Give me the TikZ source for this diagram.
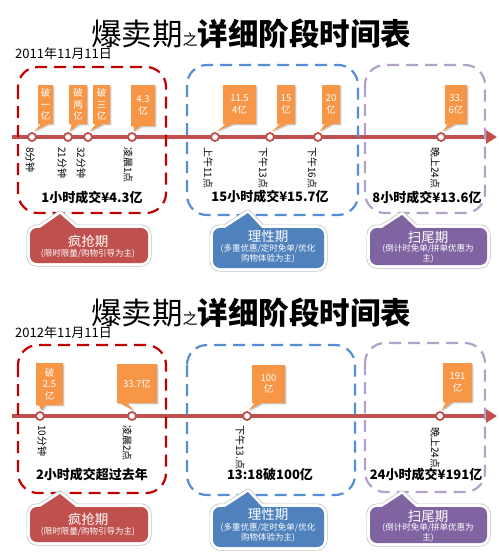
\documentclass[tikz,border=0pt]{standalone}
\usepackage{fontspec}
\setmainfont{Noto Sans CJK SC}
\usetikzlibrary{arrows.meta}
\definecolor{tlred}{HTML}{C0504D}
\definecolor{boxred}{HTML}{C00000}
\definecolor{boxblue}{HTML}{558ED5}
\definecolor{boxpurple}{HTML}{B3A2C7}
\definecolor{bubred}{HTML}{C0504D}
\definecolor{bubblue}{HTML}{4F81BD}
\definecolor{bubpurple}{HTML}{8064A2}
\definecolor{calor}{HTML}{F79646}
\newcommand\fs[1]{\fontsize{#1}{#1}\selectfont}
\tikzset{
 marker/.style={circle, draw=tlred, line width=1.8pt, fill=white, minimum size=8pt, inner sep=0pt},
 tline/.style={draw=tlred, line width=3.5pt, -{Triangle[length=11pt,width=13pt]}},
 phase/.style={dash pattern=on 12pt off 7pt, line width=2.2pt, rounded corners=20pt},
 lab/.style={rotate=-90, anchor=north west, inner sep=0pt, font=\fs{10}},
 ctext/.style={text=white, align=center, inner sep=0pt, font=\fontsize{9.5}{11.5}\selectfont},
 sumtext/.style={font=\bfseries\fs{13}, inner sep=0pt},
 bubtitle/.style={text=white, font=\fs{13.5}, inner sep=0pt},
 bubsub/.style={text=white, font=\fs{8.5}, inner sep=0pt},
 titletext/.style={anchor=base, inner sep=0pt},
 datetext/.style={anchor=west, inner sep=0pt, font=\fs{13}},
}
\newcommand\callout[8]{%
 \fill[black!20] ({#2+1.3},{#3+1.3}) -- ({#4+1.3},{#3+1.3}) -- ({#4+1.3},{#5+1.3}) -- ({#2+11.3},{#5+1.3}) -- ({#6+1.3},{#7+0.8}) -- ({#2+4.3},{#5+1.3}) -- ({#2+1.3},{#5+1.3}) -- cycle;
 \fill[calor] (#2,#3) -- (#4,#3) -- (#4,#5) -- ({#2+10},#5) -- (#6,#7) -- ({#2+3},#5) -- (#2,#5) -- cycle;
 \node[ctext] (#1) at ({(#2+#4)/2},{(#3+#5)/2}) {#8};
}
\newcommand\bubble[9]{%
 \path[fill=#9, line join=round, preaction={draw=black!25, line width=7pt, line join=round}, preaction={draw=white, line width=5.6pt, line join=round}]
  (#1,{#3+7}) .. controls (#1,{#3+3}) and ({#1+3},#3) .. ({#1+7},#3) -- (#5,#3) -- (#6,#7) -- (#8,#3) -- ({#2-7},#3) .. controls ({#2-3},#3) and (#2,{#3+3}) .. (#2,{#3+7}) -- (#2,{#4-7}) .. controls (#2,{#4-3}) and ({#2-3},#4) .. ({#2-7},#4) -- ({#1+7},#4) .. controls ({#1+3},#4) and (#1,{#4-3}) .. (#1,{#4-7}) -- cycle;}
\begin{document}
\begin{tikzpicture}[x=1pt,y=-1pt]
\useasboundingbox[fill=white] (0,0) rectangle (500,554);
% ===== 2011 =====
\node[titletext] (t1) at (251,45) {\fs{30.5}爆卖期{\fs{15}之}\bfseries 详细阶段时间表};
\node[datetext] (d1) at (15,54) {2011年11月11日};
\coordinate (ts1) at (12,137);
\coordinate (te1) at (497,137);
\draw[tline] (ts1) -- (te1);
\draw[phase, boxred] (18,67) rectangle (166,213);
\draw[phase, boxblue] (187,65) rectangle (358,215);
\draw[phase, boxpurple] (365,65) rectangle (485,213);
\node[marker] (a1) at (32,137) {};
\node[marker] (a2) at (68,137) {};
\node[marker] (a3) at (88,137) {};
\node[marker] (a4) at (132,137) {};
\node[marker] (a5) at (215,137) {};
\node[marker] (a6) at (270,137) {};
\node[marker] (a7) at (318,137) {};
\node[marker] (a8) at (441,137) {};
\callout{c1}{38}{85}{53}{124}{33.5}{131.5}{破\\一\\亿}
\callout{c2}{69}{85}{87}{124}{69.5}{131.5}{破\\两\\亿}
\callout{c3}{93}{85}{110}{124}{89.5}{131.5}{破\\三\\亿}
\callout{c4}{131}{85}{155}{126}{133.5}{131.5}{4.3\\亿}
\callout{c5}{223}{85}{256}{124}{216.5}{131.5}{11.5\\4亿}
\callout{c6}{277}{85}{295}{124}{271.5}{131.5}{15\\亿}
\callout{c7}{322}{85}{340}{124}{319.5}{131.5}{20\\亿}
\callout{c8}{445}{85}{467}{124}{442.5}{131.5}{33.\\6亿}
\node[lab] (l1) at (35,147) {8分钟};
\node[lab] (l2) at (67,147) {21分钟};
\node[lab] (l3) at (86,147) {32分钟};
\node[lab] (l4) at (133,147) {凌晨1点};
\node[lab] (l5) at (213,147) {上午11点};
\node[lab] (l6) at (268,147) {下午13点};
\node[lab] (l7) at (317,147) {下午16点};
\node[lab] (l8) at (440,147) {晚上24点};
\node[sumtext] (s1) at (92,198) {1小时成交¥4.3亿};
\node[sumtext] (s2) at (270,197) {15小时成交¥15.7亿};
\node[sumtext] (s3) at (427,198) {8小时成交¥13.6亿};
\bubble{30}{148}{228}{263}{40}{60}{214}{76}{bubred}
\node[bubtitle] (b1) at (88,241) {疯抢期};
\node[bubsub] (b1s) at (88,254) {(限时限量/购物引导为主)};
\bubble{213}{324}{228}{268}{225}{248}{213}{262}{bubblue}
\node[bubtitle] (b2) at (268,236) {理性期};
\node[bubsub] (b2s) at (268,249) {(多重优惠/定时免单/优化};
\node[bubsub] (b2t) at (268,259) {购物体验为主)};
\bubble{370}{487}{228}{265}{382}{402}{215}{416}{bubpurple}
\node[bubtitle] (b3) at (428,237) {扫尾期};
\node[bubsub] (b3s) at (428,249) {(倒计时免单/拼单优惠为};
\node[bubsub] (b3t) at (428,259) {主)};
% ===== 2012 =====
\node[titletext] (t2) at (251,324) {\fs{30.5}爆卖期{\fs{15}之}\bfseries 详细阶段时间表};
\node[datetext] (d2) at (15,333) {2012年11月11日};
\coordinate (ts2) at (12,416);
\coordinate (te2) at (497,416);
\draw[tline] (ts2) -- (te2);
\draw[phase, boxred] (18,345) rectangle (166,493);
\draw[phase, boxblue] (187,345) rectangle (355,495);
\draw[phase, boxpurple] (365,343) rectangle (485,492);
\node[marker] (e1) at (40,416) {};
\node[marker] (e2) at (132,416) {};
\node[marker] (e3) at (247,416) {};
\node[marker] (e4) at (440,416) {};
\callout{f1}{36}{363}{63}{405}{41.5}{410.5}{破\\2.5\\亿}
\callout{f2}{117}{364}{157}{403}{133.5}{410.5}{33.7亿}
\callout{f3}{252}{365}{285}{403}{248.5}{410.5}{100\\亿}
\callout{f4}{443}{363}{472}{402}{441.5}{410.5}{191\\亿}
\node[lab] (g1) at (47,425) {10分钟};
\node[lab] (g2) at (132,425) {凌晨2点};
\node[lab] (g3) at (245,425) {下午13.点};
\node[lab] (g4) at (440,427) {晚上24点};
\node[sumtext] (h1) at (92,475) {2小时成交超过去年};
\node[sumtext] (h2) at (270,475) {13:18破100亿};
\node[sumtext] (h3) at (426,475) {24小时成交¥191亿};
\bubble{30}{148}{507}{542}{40}{60}{494}{76}{bubred}
\node[bubtitle] (k1) at (88,519) {疯抢期};
\node[bubsub] (k1s) at (88,532) {(限时限量/购物引导为主)};
\bubble{213}{324}{507}{547}{225}{248}{492}{262}{bubblue}
\node[bubtitle] (k2) at (268,514) {理性期};
\node[bubsub] (k2s) at (268,528) {(多重优惠/定时免单/优化};
\node[bubsub] (k2t) at (268,538) {购物体验为主)};
\bubble{370}{487}{507}{543}{382}{402}{494}{416}{bubpurple}
\node[bubtitle] (k3) at (428,516) {扫尾期};
\node[bubsub] (k3s) at (428,528) {(倒计时免单/拼单优惠为};
\node[bubsub] (k3t) at (428,538) {主)};
\end{tikzpicture}
\end{document}
